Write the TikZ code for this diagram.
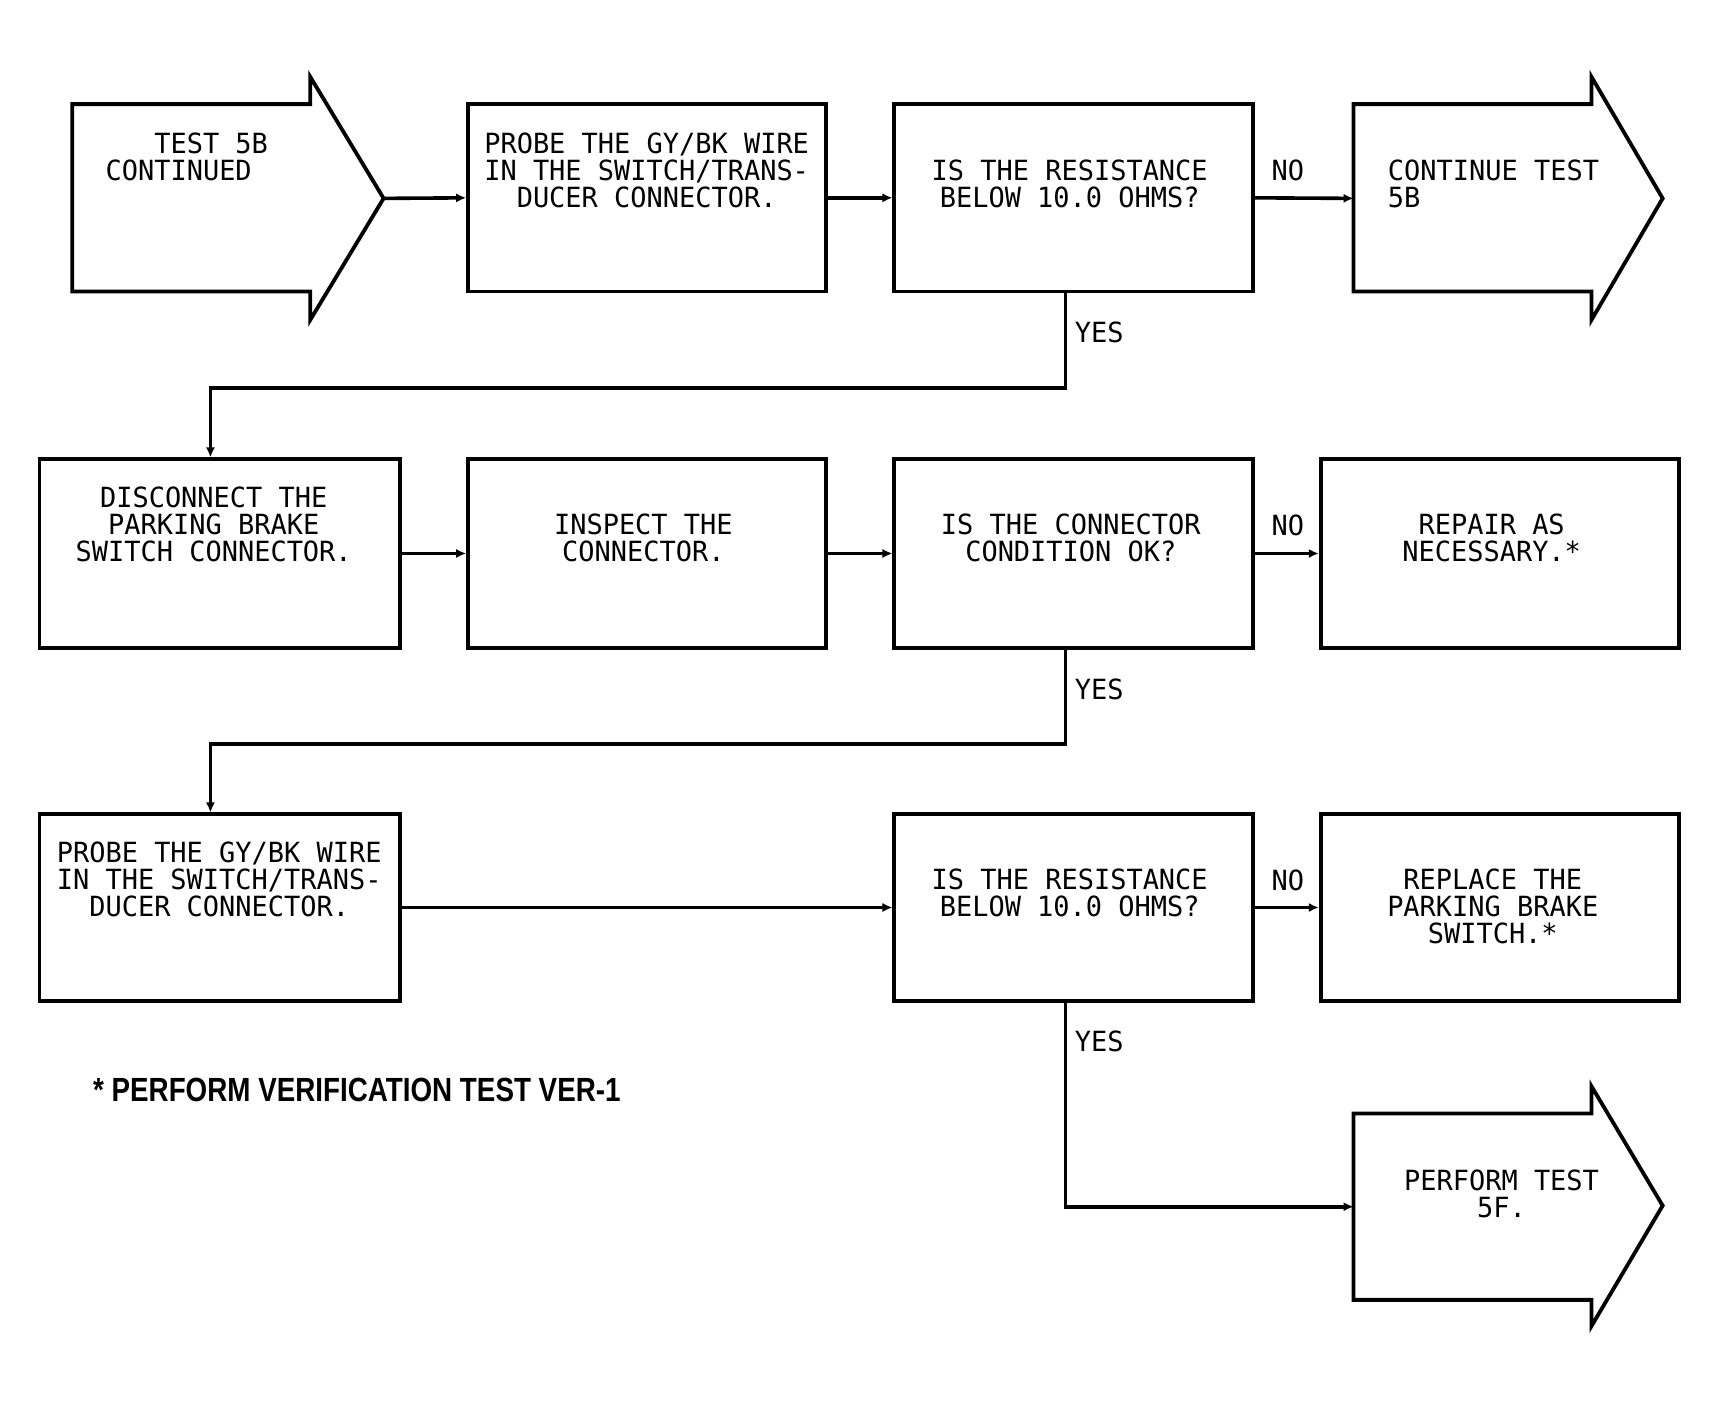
\documentclass[tikz,border=0pt]{standalone}
\usepackage{fontspec}
\usepackage{graphicx}
\newfontfamily\plotfont[FakeStretch=0.97]{DejaVu Sans Mono}
\newfontfamily\notefont{Liberation Sans}
\usetikzlibrary{arrows.meta,fit}
\begin{document}
\begin{tikzpicture}[x=0.548pt,y=-0.548pt,
  box/.style={draw,line width=1.9pt,inner sep=0pt},
  shp/.style={draw,line width=1.9pt,line join=miter},
  txt/.style={font=\plotfont\fontsize{13.9}{13.5}\selectfont,align=center,inner sep=0pt,anchor=north},
  ltxt/.style={font=\plotfont\fontsize{13.9}{13.5}\selectfont,align=left,inner sep=0pt,anchor=north west},
  lbl/.style={font=\plotfont\fontsize{13.9}{13.5}\selectfont,inner sep=0pt},
  conn/.style={line width=1.8pt,-{Latex[length=5pt,width=4.6pt]}}
]
\useasboundingbox (0pt,0pt) rectangle (859.5pt,-704pt);

% ---- row 1 ----
\draw[shp] (66,95) -- (283,95) -- (283,70) -- (350,181) -- (283,292) -- (283,266) -- (66,266) -- cycle;
\coordinate (a1tip) at (350,181);
\node[ltxt] (a1t) at (96,120.7) {\phantom{XXX}TEST 5B\\CONTINUED};

\node[box,fit={(427,95)(754,266)}] (b2) {};
\node[txt] (b2t) at (590,120.7) {PROBE THE GY/BK WIRE\\IN THE SWITCH/TRANS-\\DUCER CONNECTOR.};

\node[box,fit={(816,95)(1143,266)}] (b3) {};
\node[txt] (b3t) at (976,145.7) {IS THE RESISTANCE\\BELOW 10.0 OHMS?};

\draw[shp] (1235,95) -- (1452,95) -- (1452,70) -- (1517,181) -- (1452,292) -- (1452,266) -- (1235,266) -- cycle;
\coordinate (a4in) at (1235,181);
\node[ltxt] (a4t) at (1266,145.7) {CONTINUE TEST\\5B};

% ---- row 2 ----
\node[box,fit={(36,419)(365,591)}] (b5) {};
\node[txt] (b5t) at (195,443.7) {DISCONNECT THE\\PARKING BRAKE\\SWITCH CONNECTOR.};

\node[box,fit={(427,419)(754,591)}] (b6) {};
\node[txt] (b6t) at (587,468.7) {INSPECT THE\\CONNECTOR.};

\node[box,fit={(816,419)(1143,591)}] (b7) {};
\node[txt] (b7t) at (977,468.7) {IS THE CONNECTOR\\CONDITION OK?};

\node[box,fit={(1205,419)(1532,591)}] (b8) {};
\node[txt] (b8t) at (1361,468.7) {REPAIR AS\\NECESSARY.*};

% ---- row 3 ----
\node[box,fit={(36,743)(365,913)}] (b9) {};
\node[txt] (b9t) at (200,767.7) {PROBE THE GY/BK WIRE\\IN THE SWITCH/TRANS-\\DUCER CONNECTOR.};

\node[box,fit={(816,743)(1143,913)}] (b10) {};
\node[txt] (b10t) at (976,792.7) {IS THE RESISTANCE\\BELOW 10.0 OHMS?};

\node[box,fit={(1205,743)(1532,913)}] (b11) {};
\node[txt] (b11t) at (1362,792.7) {REPLACE THE\\PARKING BRAKE\\SWITCH.*};

\draw[shp] (1235,1016) -- (1452,1016) -- (1452,991) -- (1517,1100) -- (1452,1210) -- (1452,1186) -- (1235,1186) -- cycle;
\coordinate (a12in) at (1235,1101);
\node[txt] (a12t) at (1370,1066.7) {PERFORM TEST\\5F.};

% ---- routing coordinates ----
\coordinate (y1x) at (972,354);
\coordinate (y1l) at (192,354);
\coordinate (y2x) at (972,679);
\coordinate (y2l) at (192,679);
\coordinate (y3x) at (972,1101);

% ---- connectors ----
\draw[conn] (a1tip) -- (b2.west);
\draw[conn] (b2.east) -- (b3.west);
\draw[conn] (b3.east) -- (a4in);
\draw[conn] (b3.south -| y1x) -- (y1x) -- (y1l) -- (b5.north -| y1l);

\draw[conn] (b5.east) -- (b6.west);
\draw[conn] (b6.east) -- (b7.west);
\draw[conn] (b7.east) -- (b8.west);
\draw[conn] (b7.south -| y2x) -- (y2x) -- (y2l) -- (b9.north -| y2l);

\draw[conn] (b9.east) -- (b10.west);
\draw[conn] (b10.east) -- (b11.west);
\draw[conn] (b10.south -| y3x) -- (y3x) -- (a12in);

% ---- labels ----
\node[lbl] (no1) at (1175,155) {NO};
\node[lbl] (yes1) at (1003,303) {YES};
\node[lbl] (no2) at (1175,479) {NO};
\node[lbl] (yes2) at (1003,629) {YES};
\node[lbl] (no3) at (1175,803) {NO};
\node[lbl] (yes3) at (1003,950) {YES};

% ---- footnote ----
\node[anchor=west,inner sep=0pt] (note) at (84.6,994.5)
  {\resizebox{263.7pt}{11.7pt}{\notefont\bfseries * PERFORM VERIFICATION TEST VER-1}};
\end{tikzpicture}
\end{document}
